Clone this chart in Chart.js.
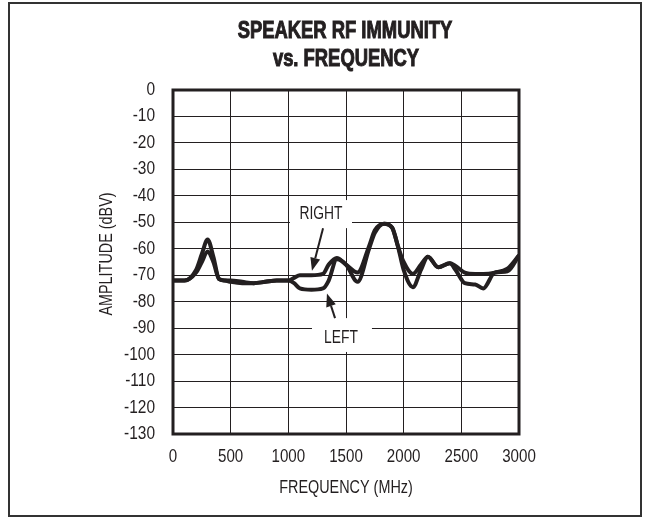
<!DOCTYPE html>
<html>
<head>
<meta charset="utf-8">
<script src="https://cdn.jsdelivr.net/npm/chart.js@4.4.1/dist/chart.umd.min.js"></script>
<style>
  html, body { margin: 0; padding: 0; background: #fff; }
  #wrap { position: absolute; left: 0; top: 0; width: 649px; height: 518px; }
</style>
</head>
<body>
<div id="wrap"><canvas id="myChart" width="649" height="518"></canvas></div>
<script>
// frequency points (MHz) shared by both traces
var freqs = [0, 100, 200, 250, 300, 350, 400, 450, 500, 600, 700, 800, 900, 1000, 1050, 1100, 1200, 1300, 1350, 1420, 1500, 1600, 1700, 1750, 1830, 1900, 1950, 2000, 2080, 2150, 2210, 2300, 2400, 2450, 2530, 2620, 2690, 2790, 2900, 3000];
// amplitude (dBV)
var leftVals = [-72, -72, -68, -62, -56.5, -63, -71.5, -72, -72.5, -73, -73, -72.5, -72, -72, -73, -75, -75.5, -75, -72, -64, -66, -72.5, -60, -54, -50.5, -52, -59, -68, -74.5, -68, -63, -67, -65.5, -68, -73, -73.5, -75, -69, -68.5, -62.5];
var rightVals = [-72, -72, -69, -65, -61, -65, -71.5, -72, -72, -72.5, -73, -72.5, -72, -72, -71, -70, -70, -69.5, -66, -63.5, -66, -69, -59, -53, -50.5, -52, -59, -65, -69.5, -66, -63, -67, -65.5, -66.5, -69, -69.5, -69.5, -69, -67.5, -62.5];
var xTicks = [0, 500, 1000, 1500, 2000, 2500, 3000];
var yTicks = [0, -10, -20, -30, -40, -50, -60, -70, -80, -90, -100, -110, -120, -130];
var titleLines = ['SPEAKER RF IMMUNITY', 'vs. FREQUENCY'];
var xTitle = 'FREQUENCY (MHz)';
var yTitle = 'AMPLITUDE (dBV)';

var ink = '#231f20';
var sans = '"Liberation Sans", Arial, sans-serif';

function pts(vals) {
    return freqs.map(function (f, i) { return { x: f, y: vals[i] }; });
}

// labels with arrows, in data units
var callouts = [
    { text: 'RIGHT', box: [1014, 1552, -41.6, -52.2], at: [1283, -46.9], tail: [1301, -52.2], tip: [1205, -68.3] },
    { text: 'LEFT', box: [1205, 1725, -86.2, -99.0], at: [1457, -93.7], tail: [1405, -86.2], tip: [1335, -76.9] }
];

// condensed text: no narrow font installed, so squeeze horizontally
function squeezed(c, text, x, y, font, sx, align, rot, heavy) {
    c.save();
    c.translate(x, y);
    if (rot) c.rotate(rot);
    c.scale(sx, 1);
    c.font = font;
    c.textAlign = align;
    c.textBaseline = 'middle';
    c.fillText(text, 0, 0);
    if (heavy) {
        c.lineWidth = heavy;
        c.strokeText(text, 0, 0);
    }
    c.restore();
}

var framePlugin = {
    id: 'frame',
    beforeDraw: function (chart) {
        var c = chart.ctx;
        c.save();
        c.fillStyle = '#fff';
        c.fillRect(0, 0, chart.width, chart.height);
        c.strokeStyle = '#333';
        c.lineWidth = 2;
        c.strokeRect(9, 3, 632, 513);
        c.restore();
    },
    beforeDatasetsDraw: function (chart) {
        var c = chart.ctx;
        var xs = chart.scales.x, ys = chart.scales.y;
        c.save();
        c.fillStyle = '#fff';
        callouts.forEach(function (o) {
            var x1 = xs.getPixelForValue(o.box[0]), x2 = xs.getPixelForValue(o.box[1]);
            var y1 = ys.getPixelForValue(o.box[2]), y2 = ys.getPixelForValue(o.box[3]);
            c.fillRect(x1, y1, x2 - x1, y2 - y1);
        });
        c.restore();
    },
    afterDatasetsDraw: function (chart) {
        var c = chart.ctx;
        var a = chart.chartArea;
        var xs = chart.scales.x, ys = chart.scales.y;
        var midX = (a.left + a.right) / 2;
        c.save();
        c.strokeStyle = ink;
        c.fillStyle = ink;
        c.lineWidth = 3;
        c.strokeRect(a.left, a.top, a.right - a.left, a.bottom - a.top);

        // title
        squeezed(c, titleLines[0], midX - 1, 32, 'bold 23px ' + sans, 0.8, 'center', 0, 1);
        squeezed(c, titleLines[1], midX, 60, 'bold 23px ' + sans, 0.8, 'center', 0, 1);

        // tick labels
        yTicks.forEach(function (v) {
            squeezed(c, String(v), a.left - 18, ys.getPixelForValue(v), '18px ' + sans, 0.86, 'right');
        });
        xTicks.forEach(function (v) {
            squeezed(c, String(v), xs.getPixelForValue(v), a.bottom + 23, '18px ' + sans, 0.84, 'center');
        });

        // axis titles
        squeezed(c, xTitle, midX, a.bottom + 54, '18px ' + sans, 0.8, 'center');
        squeezed(c, yTitle, 107, (a.top + a.bottom) / 2 - 8, '18px ' + sans, 0.8, 'center', -Math.PI / 2);

        // callouts
        callouts.forEach(function (o) {
            squeezed(c, o.text, xs.getPixelForValue(o.at[0]), ys.getPixelForValue(o.at[1]), '18px ' + sans, 0.77, 'center');
            var tx = xs.getPixelForValue(o.tail[0]), ty = ys.getPixelForValue(o.tail[1]);
            var px = xs.getPixelForValue(o.tip[0]), py = ys.getPixelForValue(o.tip[1]);
            var ang = Math.atan2(py - ty, px - tx);
            var hl = 13, hw = 5;
            var bx = px - hl * Math.cos(ang), by = py - hl * Math.sin(ang);
            c.lineWidth = 2;
            c.beginPath();
            c.moveTo(tx, ty);
            c.lineTo(bx, by);
            c.stroke();
            c.beginPath();
            c.moveTo(px, py);
            c.lineTo(bx + hw * Math.sin(ang), by - hw * Math.cos(ang));
            c.lineTo(bx - hw * Math.sin(ang), by + hw * Math.cos(ang));
            c.closePath();
            c.fill();
        });
        c.restore();
    }
};

var ctx = document.getElementById('myChart').getContext('2d');
var myChart = new Chart(ctx, {
    type: 'line',
    data: {
        datasets: [{
            label: 'LEFT',
            data: pts(leftVals),
            borderColor: ink,
            borderWidth: 4,
            pointRadius: 0,
            cubicInterpolationMode: 'monotone',
            fill: false
        }, {
            label: 'RIGHT',
            data: pts(rightVals),
            borderColor: ink,
            borderWidth: 4,
            pointRadius: 0,
            cubicInterpolationMode: 'monotone',
            fill: false
        }]
    },
    options: {
        responsive: false,
        animation: false,
        layout: { padding: { left: 0, right: 130, top: 90, bottom: 0 } },
        plugins: {
            legend: { display: false },
            tooltip: { enabled: false },
            title: { display: false }
        },
        scales: {
            x: {
                type: 'linear',
                min: 0,
                max: 3000,
                afterBuildTicks: function (s) { s.ticks = xTicks.map(function (v) { return { value: v }; }); },
                afterFit: function (s) { s.height = 84; },
                grid: { color: ink, lineWidth: 1, drawTicks: false },
                border: { display: false },
                ticks: { display: false }
            },
            y: {
                min: -130,
                max: 0,
                afterBuildTicks: function (s) { s.ticks = yTicks.map(function (v) { return { value: v }; }); },
                afterFit: function (s) { s.width = 173; },
                grid: { color: ink, lineWidth: 1, drawTicks: false },
                border: { display: false },
                ticks: { display: false }
            }
        }
    },
    plugins: [framePlugin]
});
</script>
</body>
</html>
